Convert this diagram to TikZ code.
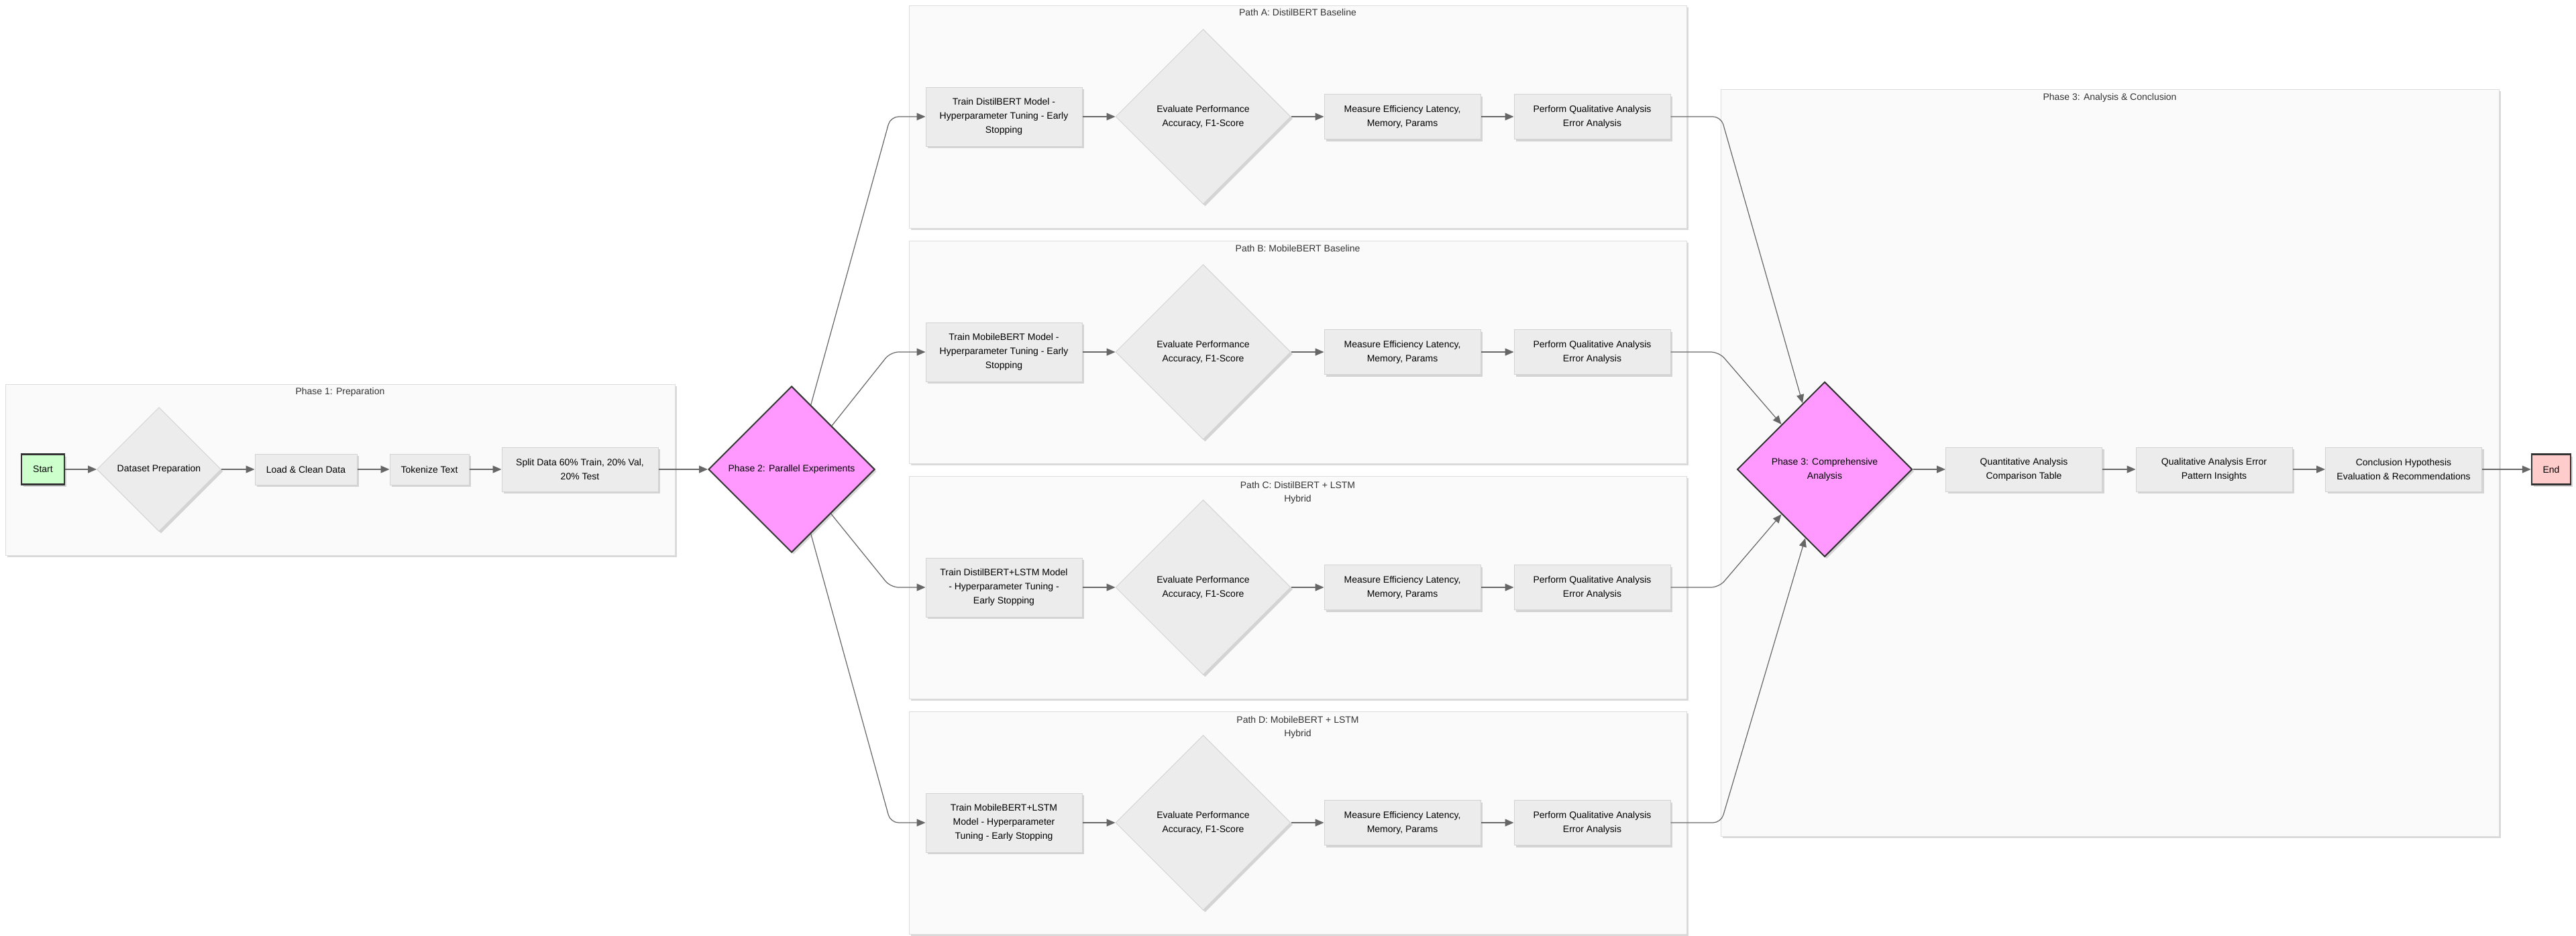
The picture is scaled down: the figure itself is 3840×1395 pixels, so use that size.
\documentclass[tikz,border=0pt]{standalone}
\usepackage{fontspec}
\setmainfont{Liberation Sans}
\usetikzlibrary{shapes.geometric,arrows.meta,shadows,calc}
\definecolor{boxfill}{HTML}{ECECEC}
\definecolor{boxline}{HTML}{D3D3D3}
\definecolor{clfill}{HTML}{FAFAFA}
\definecolor{clline}{HTML}{DDDDDD}
\definecolor{edgec}{HTML}{666666}
\definecolor{phasec}{HTML}{FF99FF}
\definecolor{startc}{HTML}{CCFFCC}
\definecolor{endc}{HTML}{FFCCCC}
\definecolor{darkc}{HTML}{333333}
\begin{document}
\begin{tikzpicture}[x=1pt,y=-1pt,
  txt/.style={font=\fontsize{14}{21}\selectfont, text=black, align=center},
  shad/.style={drop shadow={shadow xshift=3pt, shadow yshift=-3pt, opacity=0.15, fill=black}},
  proc/.style={txt, rectangle, fill=boxfill, draw=boxline, line width=1pt, inner sep=0pt, shad},
  dec/.style={txt, diamond, aspect=1, fill=boxfill, draw=boxline, line width=1pt, inner sep=0pt, shad},
  phasedec/.style={txt, diamond, aspect=1, fill=phasec, draw=darkc, line width=2pt, inner sep=0pt, shad},
  term/.style={txt, rectangle, draw=darkc, line width=2.5pt, inner sep=0pt, shad},
  cluster/.style={rectangle, fill=clfill, draw=clline, line width=1pt, inner sep=0pt, shad},
  cltitle/.style={font=\fontsize{14}{20}\selectfont, text=darkc, align=center, inner sep=0pt, anchor=north},
  arr/.style={draw=edgec, line width=1.2pt, -{Triangle[length=13pt,width=11pt]}},
]
\useasboundingbox[fill=white] (0,0) rectangle (3840,1395);

% clusters
\node[cluster, minimum width=998, minimum height=255] (c1) at (507,700.5) {};
\node[cluster, minimum width=1159, minimum height=332] (cA) at (1934.5,174) {};
\node[cluster, minimum width=1159, minimum height=332] (cB) at (1934.5,525) {};
\node[cluster, minimum width=1159, minimum height=332] (cC) at (1934.5,876) {};
\node[cluster, minimum width=1159, minimum height=332] (cD) at (1934.5,1227) {};
\node[cluster, minimum width=1160, minimum height=1114] (c3) at (3145,690) {};

\node[cltitle] (t1) at (507,578) {Phase 1: Preparation};
\node[cltitle] (tA) at (1934.5,13) {Path A: DistilBERT Baseline};
\node[cltitle] (tB) at (1934.5,365) {Path B: MobileBERT Baseline};
\node[cltitle] (tC) at (1934.5,718) {Path C: DistilBERT + LSTM\\Hybrid};
\node[cltitle] (tD) at (1934.5,1068) {Path D: MobileBERT + LSTM\\Hybrid};
\node[cltitle] (t3) at (3145,139) {Phase 3: Analysis \& Conclusion};

% phase 1
\node[term, fill=startc, minimum width=64, minimum height=45] (start) at (64,700) {Start};
\node[dec, minimum width=185, minimum height=185] (ds) at (237,700) {Dataset Preparation};
\node[proc, minimum width=152, minimum height=46] (load) at (456,700) {Load \& Clean Data};
\node[proc, minimum width=118, minimum height=46] (tok) at (640,700) {Tokenize Text};
\node[proc, minimum width=233, minimum height=66] (split) at (864.5,700) {Split Data 60\% Train, 20\% Val,\\20\% Test};
\node[phasedec, minimum width=248, minimum height=248] (p2) at (1180,700) {Phase 2: Parallel Experiments};

% path rows
\node[proc, minimum width=233, minimum height=88] (trA) at (1496.5,174) {Train DistilBERT Model -\\Hyperparameter Tuning - Early\\Stopping};
\node[dec, minimum width=261, minimum height=261] (evA) at (1793.5,174) {Evaluate Performance\\Accuracy, F1-Score};
\node[proc, minimum width=233, minimum height=67] (meA) at (2090.5,174) {Measure Efficiency Latency,\\Memory, Params};
\node[proc, minimum width=233, minimum height=67] (peA) at (2373.5,174) {Perform Qualitative Analysis\\Error Analysis};

\node[proc, minimum width=233, minimum height=88] (trB) at (1496.5,525) {Train MobileBERT Model -\\Hyperparameter Tuning - Early\\Stopping};
\node[dec, minimum width=261, minimum height=261] (evB) at (1793.5,525) {Evaluate Performance\\Accuracy, F1-Score};
\node[proc, minimum width=233, minimum height=67] (meB) at (2090.5,525) {Measure Efficiency Latency,\\Memory, Params};
\node[proc, minimum width=233, minimum height=67] (peB) at (2373.5,525) {Perform Qualitative Analysis\\Error Analysis};

\node[proc, minimum width=233, minimum height=88] (trC) at (1496.5,876) {Train DistilBERT+LSTM Model\\- Hyperparameter Tuning -\\Early Stopping};
\node[dec, minimum width=261, minimum height=261] (evC) at (1793.5,876) {Evaluate Performance\\Accuracy, F1-Score};
\node[proc, minimum width=233, minimum height=67] (meC) at (2090.5,876) {Measure Efficiency Latency,\\Memory, Params};
\node[proc, minimum width=233, minimum height=67] (peC) at (2373.5,876) {Perform Qualitative Analysis\\Error Analysis};

\node[proc, minimum width=233, minimum height=88] (trD) at (1496.5,1227) {Train MobileBERT+LSTM\\Model - Hyperparameter\\Tuning - Early Stopping};
\node[dec, minimum width=261, minimum height=261] (evD) at (1793.5,1227) {Evaluate Performance\\Accuracy, F1-Score};
\node[proc, minimum width=233, minimum height=67] (meD) at (2090.5,1227) {Measure Efficiency Latency,\\Memory, Params};
\node[proc, minimum width=233, minimum height=67] (peD) at (2373.5,1227) {Perform Qualitative Analysis\\Error Analysis};

% phase 3
\node[phasedec, minimum width=261, minimum height=261] (p3) at (2720,700) {Phase 3: Comprehensive\\Analysis};
\node[proc, minimum width=233, minimum height=66] (qa) at (3017,700) {Quantitative Analysis\\Comparison Table};
\node[proc, minimum width=233, minimum height=66] (ql) at (3300.5,700) {Qualitative Analysis Error\\Pattern Insights};
\node[proc, minimum width=233, minimum height=66] (co) at (3583,700) {Conclusion Hypothesis\\Evaluation \& Recommendations};
\node[term, fill=endc, minimum width=58, minimum height=45] (end) at (3803,700) {End};

% edges phase 1
\draw[arr] (start) -- (ds);
\draw[arr] (ds) -- (load);
\draw[arr] (load) -- (tok);
\draw[arr] (tok) -- (split);
\draw[arr] (split) -- (p2);

% fan out
\draw[arr, rounded corners=12pt] ($(p2.north)!0.23!(p2.east)$) -- ([xshift=-52pt]trA.west) -- (trA.west);
\draw[arr, rounded corners=12pt] ($(p2.north)!0.48!(p2.east)$) -- ([xshift=-52pt]trB.west) -- (trB.west);
\draw[arr, rounded corners=12pt] ($(p2.south)!0.47!(p2.east)$) -- ([xshift=-52pt]trC.west) -- (trC.west);
\draw[arr, rounded corners=12pt] ($(p2.south)!0.23!(p2.east)$) -- ([xshift=-52pt]trD.west) -- (trD.west);

% rows
\foreach \r in {A,B,C,D}{
  \draw[arr] (tr\r) -- (ev\r);
  \draw[arr] (ev\r) -- (me\r);
  \draw[arr] (me\r) -- (pe\r);
}

% fan in
\draw[arr, rounded corners=12pt] (peA.east) -- ([xshift=75pt]peA.east) -- ($(p3.north)!0.25!(p3.west)$);
\draw[arr, rounded corners=12pt] (peB.east) -- ([xshift=72pt]peB.east) -- ($(p3.north)!0.49!(p3.west)$);
\draw[arr, rounded corners=12pt] (peC.east) -- ([xshift=72pt]peC.east) -- ($(p3.south)!0.49!(p3.west)$);
\draw[arr, rounded corners=12pt] (peD.east) -- ([xshift=75pt]peD.east) -- ($(p3.south)!0.22!(p3.west)$);

% phase 3 chain
\draw[arr] (p3) -- (qa);
\draw[arr] (qa) -- (ql);
\draw[arr] (ql) -- (co);
\draw[arr] (co) -- (end);
\end{tikzpicture}
\end{document}
